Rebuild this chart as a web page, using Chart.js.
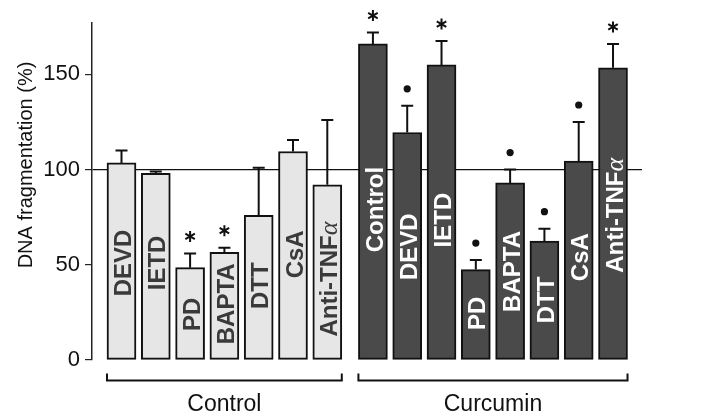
<!DOCTYPE html>
<html>
<head>
<meta charset="utf-8">
<script src="https://cdn.jsdelivr.net/npm/chart.js@4"></script>
<style>
  body { margin: 0; background: #fff; }
</style>
</head>
<body>
<canvas id="grafico" width="706" height="419"></canvas>
<script>
// dados
const grupos = ['Control', 'Curcumin']
const tratControl = ['DEVD', 'IETD', 'PD', 'BAPTA', 'DTT', 'CsA', 'Anti-TNFα']
const tratCurcumin = ['Control', 'DEVD', 'IETD', 'PD', 'BAPTA', 'DTT', 'CsA', 'Anti-TNFα']
const valControl = [103.5, 98, 48.5, 56.5, 76, 109.5, 92]
const errControl = [6.5, 1, 7.5, 2.5, 25, 6, 34]
const valCurcumin = [166, 119.5, 155, 47.5, 93, 62.5, 104.5, 153.5]
const errCurcumin = [6, 14, 12.5, 5, 7, 6.5, 20.5, 12.5]
const sigControl = ['', '', '*', '*', '', '', '']
const sigCurcumin = ['*', '•', '*', '•', '•', '•', '•', '*']
// altura (em %) do centro do texto dentro de cada barra
const rotControl = [51, 51, 24, 29.5, 39, 55.5, 42.5]
const rotCurcumin = [79, 59.5, 73.5, 24.5, 46.5, 31.5, 54, 76]
const yTicks = [0, 50, 100, 150]
const tituloY = 'DNA fragmentation (%)'

const espacoGrupo = 0.33
const xControl = tratControl.map((t, i) => i)
const xCurcumin = tratCurcumin.map((t, i) => tratControl.length + espacoGrupo + i)

const fonte = '"Liberation Sans", Arial, sans-serif'
const larguraBarra = 29

const series = [
    { nome: grupos[0], pos: xControl, val: valControl, err: errControl, sig: sigControl, nomes: tratControl, rot: rotControl, fundo: '#e6e6e6', texto: '#3a3a3a' },
    { nome: grupos[1], pos: xCurcumin, val: valCurcumin, err: errCurcumin, sig: sigCurcumin, nomes: tratCurcumin, rot: rotCurcumin, fundo: '#4a4a4a', texto: '#ffffff' }
]

const asterisco = (ctx, cx, cy) => {
    const r = 5.5
    ctx.save()
    ctx.strokeStyle = '#111'
    ctx.lineWidth = 2
    ctx.beginPath()
    for (let k = 0; k < 3; k++) {
        const a = Math.PI / 2 + k * Math.PI / 3
        ctx.moveTo(cx - r * Math.cos(a), cy - r * Math.sin(a))
        ctx.lineTo(cx + r * Math.cos(a), cy + r * Math.sin(a))
    }
    ctx.stroke()
    ctx.restore()
}

const textoBarra = (ctx, txt, cx, cy, cor) => {
    ctx.save()
    ctx.translate(cx, cy)
    ctx.rotate(-Math.PI / 2)
    ctx.fillStyle = cor
    ctx.textBaseline = 'alphabetic'
    const fSans = 'bold 24px ' + fonte
    const fAlfa = 'italic 26px "Liberation Serif", "DejaVu Serif", serif'
    let parte1 = txt, parte2 = ''
    if (txt.endsWith('α')) { parte1 = txt.slice(0, -1); parte2 = 'α' }
    ctx.font = fSans
    const w1 = ctx.measureText(parte1).width
    ctx.font = fAlfa
    const w2 = parte2 ? ctx.measureText(parte2).width : 0
    const x0 = -(w1 + w2) / 2
    const base = 8.6
    ctx.font = fSans
    ctx.textAlign = 'left'
    ctx.fillText(parte1, x0, base)
    if (parte2) {
        ctx.font = fAlfa
        ctx.fillText(parte2, x0 + w1, base)
    }
    ctx.restore()
}

const extras = {
    id: 'extras',
    afterDatasetsDraw(chart) {
        const ctx = chart.ctx
        const sx = chart.scales.x, sy = chart.scales.y
        series.forEach(s => {
            s.pos.forEach((p, i) => {
                const px = sx.getPixelForValue(p)
                const yBar = sy.getPixelForValue(s.val[i])
                const yErr = sy.getPixelForValue(s.val[i] + s.err[i])
                // barra de erro (so para cima)
                ctx.save()
                ctx.strokeStyle = '#111'
                ctx.lineWidth = 2
                ctx.beginPath()
                ctx.moveTo(px, yBar)
                ctx.lineTo(px, yErr)
                ctx.moveTo(px - 6, yErr)
                ctx.lineTo(px + 6, yErr)
                ctx.stroke()
                ctx.restore()
                // significancia
                const ym = yErr - 17
                if (s.sig[i] === '*') asterisco(ctx, px, ym)
                if (s.sig[i] === '•') {
                    ctx.save()
                    ctx.fillStyle = '#111'
                    ctx.beginPath()
                    ctx.arc(px, ym, 3.6, 0, Math.PI * 2)
                    ctx.fill()
                    ctx.restore()
                }
                // nome dentro da barra
                textoBarra(ctx, s.nomes[i], px + 1, sy.getPixelForValue(s.rot[i]), s.texto)
            })
        })
    },
    afterDraw(chart) {
        const ctx = chart.ctx
        const sx = chart.scales.x
        const yLinha = 380.5
        series.forEach(s => {
            const esq = sx.getPixelForValue(s.pos[0]) - larguraBarra / 2
            const dir = sx.getPixelForValue(s.pos[s.pos.length - 1]) + larguraBarra / 2
            ctx.save()
            ctx.strokeStyle = '#111'
            ctx.lineWidth = 2
            ctx.beginPath()
            ctx.moveTo(esq, yLinha - 7)
            ctx.lineTo(esq, yLinha)
            ctx.lineTo(dir, yLinha)
            ctx.lineTo(dir, yLinha - 7)
            ctx.stroke()
            ctx.fillStyle = '#111'
            ctx.font = '23px ' + fonte
            ctx.textAlign = 'center'
            ctx.textBaseline = 'middle'
            ctx.fillText(s.nome, (esq + dir) / 2, 405)
            ctx.restore()
        })
        // titulo do eixo y (deslocado para cima como no original)
        ctx.save()
        ctx.translate(26, 165)
        ctx.rotate(-Math.PI / 2)
        ctx.fillStyle = '#111'
        ctx.font = '20px ' + fonte
        ctx.textAlign = 'center'
        ctx.textBaseline = 'middle'
        ctx.fillText(tituloY, 0, 0)
        ctx.restore()
    }
}

new Chart(document.getElementById('grafico'), {
    type: 'bar',
    data: {
        datasets: series.map(s => ({
            label: s.nome,
            data: s.pos.map((p, i) => ({ x: p, y: s.val[i] })),
            backgroundColor: s.fundo,
            borderColor: '#111',
            borderWidth: 2,
            borderSkipped: false,
            barThickness: larguraBarra,
            grouped: false
        }))
    },
    options: {
        responsive: false,
        animation: false,
        devicePixelRatio: 1,
        layout: { padding: { left: 9, right: 64, top: 23, bottom: 59 } },
        plugins: {
            legend: { display: false },
            tooltip: { enabled: false }
        },
        scales: {
            x: {
                type: 'linear',
                offset: false,
                min: -0.86,
                max: 15.175,
                display: false
            },
            y: {
                min: 0,
                max: 177,
                afterBuildTicks: (scale) => { scale.ticks = yTicks.map(v => ({ value: v })) },
                afterFit: (scale) => { scale.width = 83 },
                border: { display: true, color: '#222', width: 1.5 },
                grid: {
                    color: (c) => c.tick && c.tick.value === 100 ? '#111' : 'rgba(0,0,0,0)',
                    tickColor: '#222',
                    tickLength: 7,
                    lineWidth: 1.2
                },
                ticks: {
                    color: '#111',
                    padding: 5,
                    font: { family: fonte, size: 22 }
                },
                title: { display: false }
            }
        }
    },
    plugins: [extras]
})
</script>
</body>
</html>
